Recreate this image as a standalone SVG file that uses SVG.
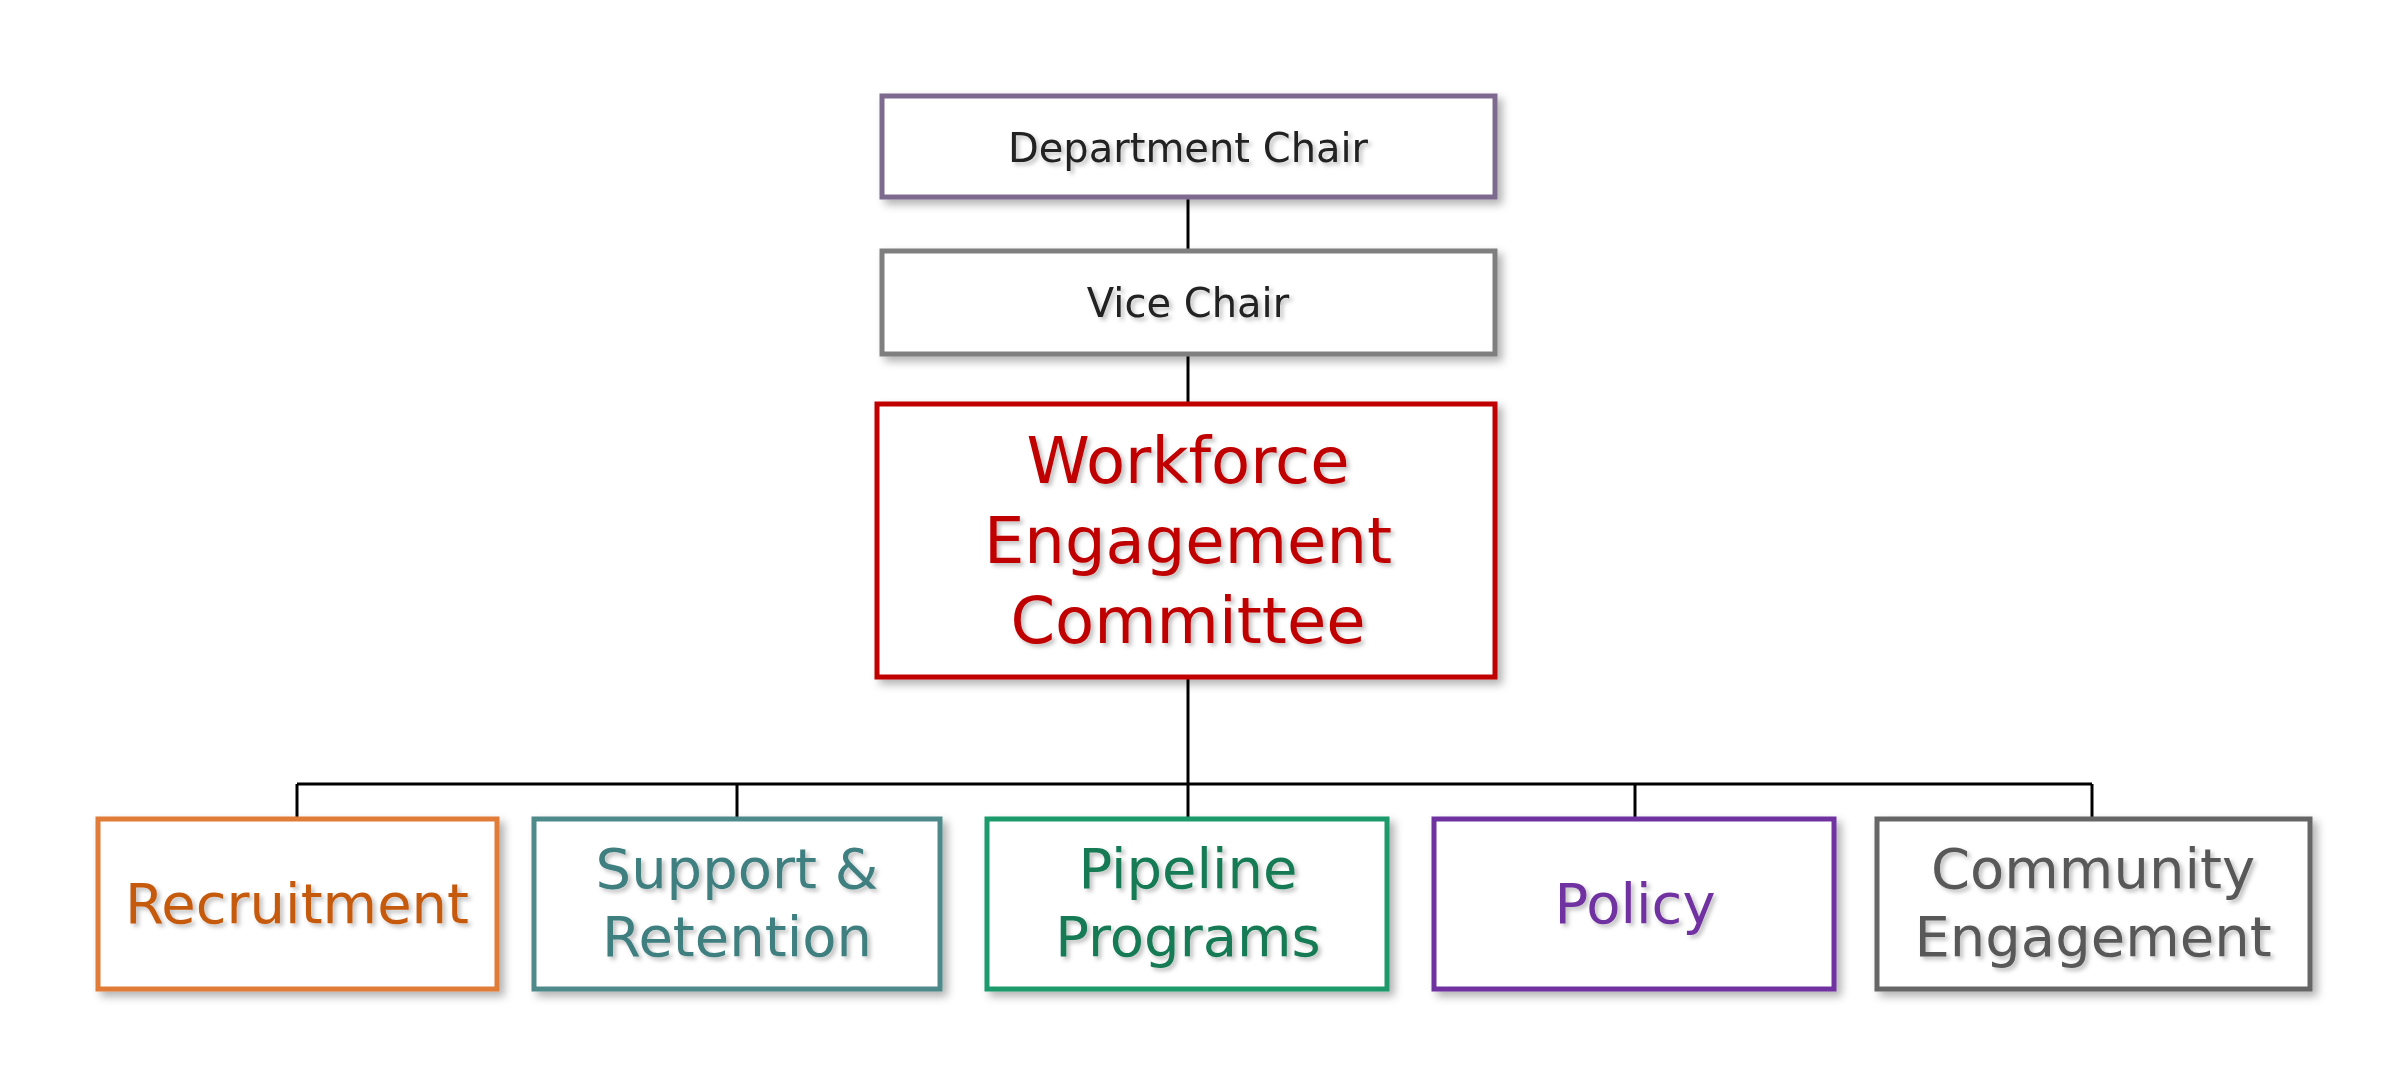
<svg xmlns="http://www.w3.org/2000/svg" width="2400" height="1068" viewBox="0 0 2400 1068">
<defs>
<filter id="sh" x="-10%" y="-10%" width="130%" height="130%"><feDropShadow dx="5" dy="5" stdDeviation="4" flood-color="#000" flood-opacity="0.3"/></filter>
<filter id="ts" x="-10%" y="-10%" width="130%" height="130%"><feDropShadow dx="3" dy="3" stdDeviation="2" flood-color="#000" flood-opacity="0.25"/></filter>
</defs>
<style>
rect{fill:#fff;stroke-width:5;filter:url(#sh)}
text{font-family:"DejaVu Sans","Liberation Sans",sans-serif;text-anchor:middle;filter:url(#ts)}
.c line{stroke:#000;stroke-width:3}
</style>
<rect width="2400" height="1068" fill="#fff" style="filter:none;stroke:none"/>
<g class="c">
<line x1="1188" y1="197" x2="1188" y2="251"/>
<line x1="1188" y1="354" x2="1188" y2="404"/>
<line x1="1188" y1="677" x2="1188" y2="819"/>
<line x1="297" y1="784" x2="2092" y2="784"/>
<line x1="297" y1="784" x2="297" y2="819"/>
<line x1="737" y1="784" x2="737" y2="819"/>
<line x1="1635" y1="784" x2="1635" y2="819"/>
<line x1="2092" y1="784" x2="2092" y2="819"/>
</g>
<g id="dept"><rect x="882" y="96" width="613" height="101" stroke="#7f6a8f"/><text x="1188" y="162" font-size="40" fill="#222">Department Chair</text></g>
<g id="vice"><rect x="882" y="251" width="613" height="103" stroke="#7f7f7f"/><text x="1188" y="317" font-size="40" fill="#222">Vice Chair</text></g>
<g id="wec"><rect x="877" y="404" width="618" height="273" stroke="#c00000"/><text font-size="64" fill="#c00000"><tspan x="1188" y="483">Workforce</tspan><tspan x="1188" y="563">Engagement</tspan><tspan x="1188" y="643">Committee</tspan></text></g>
<g id="rec"><rect x="98" y="819" width="399" height="170" stroke="#e07b39"/><text x="297" y="923" font-size="56" fill="#c55a11">Recruitment</text></g>
<g id="sup"><rect x="534" y="819" width="406" height="170" stroke="#4f8a8b"/><text font-size="56" fill="#3f7f80"><tspan x="737" y="888">Support &amp;</tspan><tspan x="737" y="956">Retention</tspan></text></g>
<g id="pipe"><rect x="987" y="819" width="400" height="170" stroke="#1a9a6c"/><text font-size="56" fill="#137a55"><tspan x="1188" y="888">Pipeline</tspan><tspan x="1188" y="956">Programs</tspan></text></g>
<g id="pol"><rect x="1434" y="819" width="400" height="170" stroke="#7030a0"/><text x="1635" y="923" font-size="56" fill="#7030a0">Policy</text></g>
<g id="com"><rect x="1877" y="819" width="433" height="170" stroke="#666"/><text font-size="56" fill="#595959"><tspan x="2093" y="888">Community</tspan><tspan x="2093" y="956">Engagement</tspan></text></g>
</svg>
